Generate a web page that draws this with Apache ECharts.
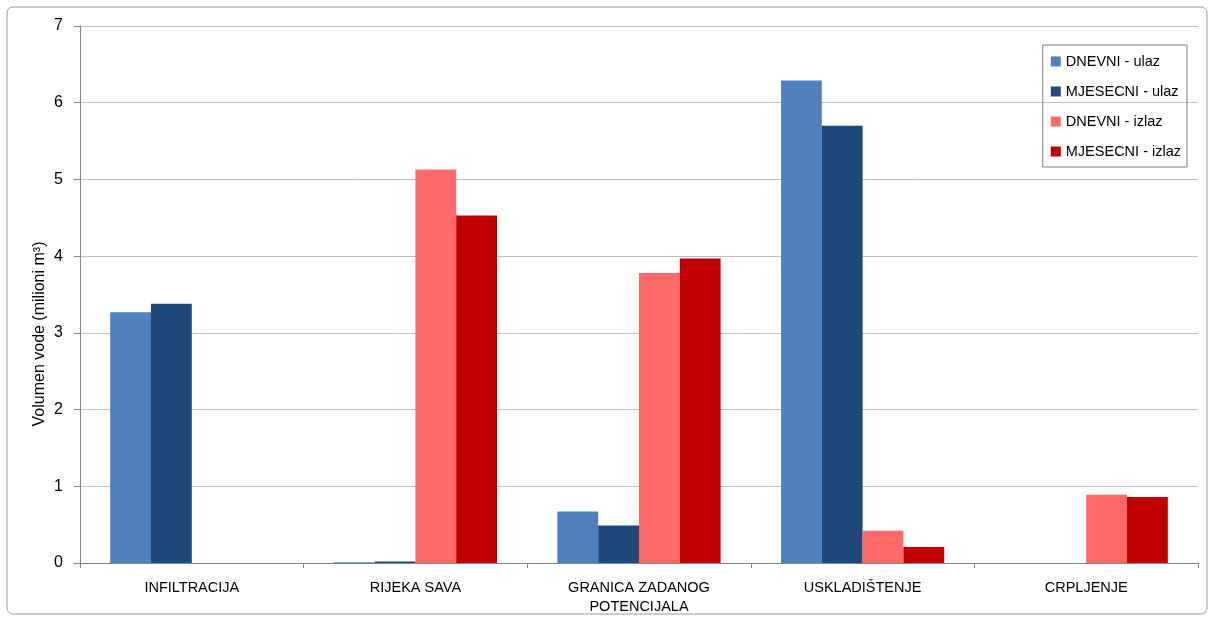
<!DOCTYPE html>
<html>
<head>
<meta charset="utf-8">
<script src="https://cdn.jsdelivr.net/npm/echarts@6/dist/echarts.min.js"></script>
<style>
  html, body { margin: 0; padding: 0; background: #fff; }
  #chart { width: 1213px; height: 623px; }
</style>
</head>
<body>
<div id="chart"></div>
<script>
// kategorije i vrijednosti (milioni m3)
const categories = ['INFILTRACIJA', 'RIJEKA SAVA', 'GRANICA ZADANOG\nPOTENCIJALA', 'USKLADIŠTENJE', 'CRPLJENJE'];
const dnevniUlaz = [3.27, 0.01, 0.67, 6.29, 0];
const mjesecniUlaz = [3.38, 0.02, 0.49, 5.70, 0];
const dnevniIzlaz = [0, 5.13, 3.78, 0.42, 0.89];
const mjesecniIzlaz = [0, 4.53, 3.97, 0.21, 0.86];

const font = 'Liberation Sans, Open Sans, sans-serif';

const chart = echarts.init(document.getElementById('chart'));

function barSeries(name, data, color) {
    return {
        name: name,
        type: 'bar',
        data: data,
        barGap: '0%',
        barCategoryGap: '27%',
        itemStyle: { color: color }
    };
}

const option = {
    animation: false,
    backgroundColor: '#fff',
    graphic: [{
        type: 'rect',
        shape: { x: 7, y: 7, width: 1200, height: 607, r: 6 },
        style: { fill: 'none', stroke: '#9a9a9a', lineWidth: 1 },
        silent: true
    }, {
        // naziv y osi
        type: 'text',
        x: 40,
        y: 334,
        rotation: Math.PI / 2,
        style: {
            text: 'Volumen vode (milioni m³)',
            font: '16px Liberation Sans, sans-serif',
            fill: '#000',
            align: 'center',
            verticalAlign: 'middle'
        },
        silent: true
    }],
    grid: {
        left: 80,
        right: 15,
        top: 26,
        bottom: 60
    },
    legend: {
        orient: 'vertical',
        right: 26,
        top: 45,
        itemWidth: 10,
        itemHeight: 10,
        itemGap: 15,
        padding: [9, 6, 8, 8],
        borderColor: '#7f7f7f',
        borderWidth: 1,
        icon: 'rect',
        textStyle: { fontFamily: font, fontSize: 14.5, color: '#000' },
        data: ['DNEVNI - ulaz', 'MJESECNI - ulaz', 'DNEVNI - izlaz', 'MJESECNI - izlaz']
    },
    xAxis: {
        type: 'category',
        data: categories,
        axisLine: { lineStyle: { color: '#868686' } },
        axisTick: { show: true, length: 5, lineStyle: { color: '#868686' } },
        axisLabel: {
            fontFamily: font,
            fontSize: 14.5,
            color: '#000',
            margin: 15,
            lineHeight: 19,
            interval: 0
        }
    },
    yAxis: {
        type: 'value',
        min: 0,
        max: 7,
        interval: 1,
        axisLine: { show: true, lineStyle: { color: '#868686' } },
        axisTick: { show: true, length: 6, lineStyle: { color: '#868686' } },
        axisLabel: { fontFamily: font, fontSize: 16, color: '#000', margin: 17 },
        splitLine: { lineStyle: { color: '#bfbfbf' } }
    },
    series: [
        barSeries('DNEVNI - ulaz', dnevniUlaz, '#4f81bd'),
        barSeries('MJESECNI - ulaz', mjesecniUlaz, '#1f497d'),
        barSeries('DNEVNI - izlaz', dnevniIzlaz, '#ff6969'),
        barSeries('MJESECNI - izlaz', mjesecniIzlaz, '#c00000')
    ]
};

chart.setOption(option);

window.addEventListener('resize', function() {
    chart.resize();
});
</script>
</body>
</html>
